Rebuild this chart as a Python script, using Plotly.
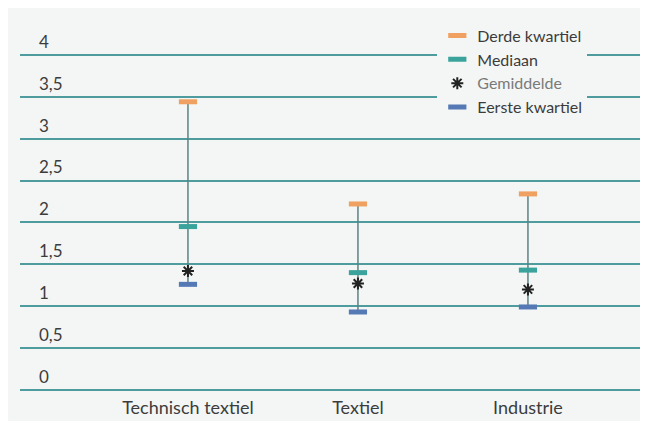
import plotly.graph_objects as go

categories = ["Technisch textiel", "Textiel", "Industrie"]
derde_kwartiel = [3.44, 2.22, 2.34]
mediaan = [1.95, 1.40, 1.43]
gemiddelde = [1.42, 1.27, 1.20]
eerste_kwartiel = [1.26, 0.93, 0.99]

ytick_vals = [0, 0.5, 1, 1.5, 2, 2.5, 3, 3.5, 4]
ytick_text = ["0", "0,5", "1", "1,5", "2", "2,5", "3", "3,5", "4"]

BG = "#f3f6f5"
TXT = "#3c3c3c"
FONT = "Lato, Open Sans, sans-serif"
xs = list(range(len(categories)))

fig = go.Figure()

# whiskers Q1 -> Q3
lx, ly = [], []
for i in xs:
    lx += [i, i, None]
    ly += [eerste_kwartiel[i], derde_kwartiel[i], None]
fig.add_trace(go.Scatter(x=lx, y=ly, mode="lines", line=dict(color="#5b8384", width=1.5),
                         showlegend=False, hoverinfo="skip"))

def dash(name, vals, color):
    fig.add_trace(go.Scatter(x=xs, y=vals, mode="markers", name=name,
                             marker=dict(symbol="line-ew", size=13,
                                         line=dict(color=color, width=5))))

dash("Derde kwartiel", derde_kwartiel, "#f0a060")
dash("Mediaan", mediaan, "#3aa39c")
fig.add_trace(go.Scatter(x=xs, y=gemiddelde, mode="markers",
                         name="<span style='color:#7a7a7a'>Gemiddelde</span>",
                         marker=dict(symbol="asterisk", size=10,
                                     line=dict(color="#222222", width=2))))
dash("Eerste kwartiel", eerste_kwartiel, "#5579b5")

XRANGE = [-0.988, 2.665]
fig.update_layout(
    width=640, height=413,
    margin=dict(l=12, r=7, t=5, b=6),
    paper_bgcolor=BG, plot_bgcolor=BG,
    font=dict(family=FONT, color=TXT, size=17),
    legend=dict(x=0.672, y=0.986, xanchor="left", yanchor="top",
                bgcolor=BG, font=dict(size=16, color=TXT, family=FONT),
                tracegroupgap=0, itemwidth=30),
    xaxis=dict(range=XRANGE, tickvals=xs, showticklabels=False,
               showgrid=False, zeroline=False, showline=False, ticks=""),
    xaxis2=dict(range=XRANGE, tickvals=xs, ticktext=categories, matches="x",
                overlaying="x", anchor="free", position=0.05, side="bottom",
                showgrid=False, zeroline=False, showline=False, ticks="",
                automargin=False, tickfont=dict(size=18, color=TXT, family=FONT)),
    yaxis=dict(range=[-0.3, 4.5], tickvals=ytick_vals, ticktext=ytick_text,
               showgrid=True, gridcolor="#4e9c9d", gridwidth=2,
               zeroline=False, showline=False, ticks="",
               ticklabelposition="inside", ticklabelshift=-13, ticklabelstandoff=16,
               automargin=False, tickfont=dict(size=17, color=TXT, family=FONT)),
)
# invisible helper trace so the label axis is drawn
fig.add_trace(go.Scatter(x=[xs[0]], y=[None], xaxis="x2", showlegend=False,
                         hoverinfo="skip", mode="markers"))

fig.write_html("out.html")
